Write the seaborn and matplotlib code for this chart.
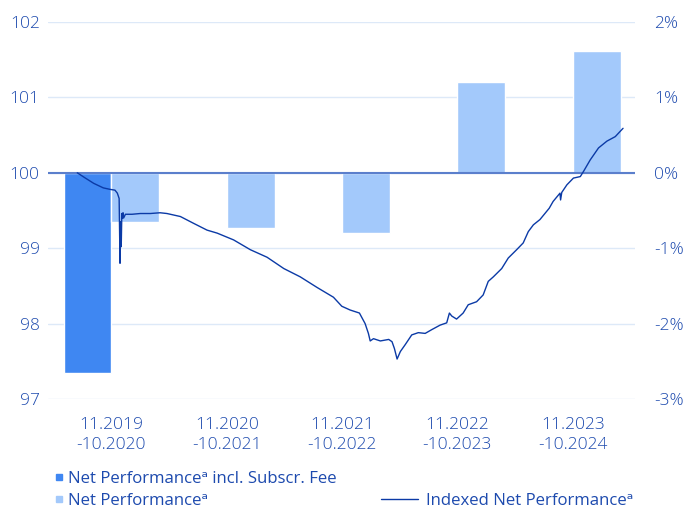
import matplotlib
matplotlib.use("Agg")
import matplotlib.pyplot as plt
from matplotlib.lines import Line2D
import seaborn as sns
import pandas as pd

# Bars (percent per period)
periods = ["11.2019\n-10.2020", "11.2020\n-10.2021", "11.2021\n-10.2022",
           "11.2022\n-10.2023", "11.2023\n-10.2024"]
fee_label = "Net Performanceᵃ incl. Subscr. Fee"
net_label = "Net Performanceᵃ"
line_label = "Indexed Net Performanceᵃ"
fee_values = [-2.65, None, None, None, None]
net_values = [-0.65, -0.73, -0.80, 1.20, 1.61]

# Indexed line
line_dates = [
    "2019-11-01", "2019-11-28", "2019-12-26", "2020-01-27", "2020-02-19", "2020-03-06",
    "2020-03-14", "2020-03-20", "2020-03-23", "2020-03-25", "2020-03-27", "2020-03-29",
    "2020-03-31", "2020-04-02", "2020-04-04", "2020-04-10", "2020-05-02", "2020-05-30",
    "2020-07-02", "2020-08-04", "2020-08-27", "2020-10-11", "2020-11-24", "2021-01-08",
    "2021-02-11", "2021-04-07", "2021-06-02", "2021-07-28", "2021-09-22", "2021-11-16",
    "2022-01-11", "2022-03-07", "2022-04-04", "2022-05-02", "2022-06-02", "2022-06-21",
    "2022-07-02", "2022-07-08", "2022-07-19", "2022-08-11", "2022-09-08", "2022-09-19",
    "2022-09-27", "2022-10-06", "2022-10-17", "2022-11-02", "2022-11-24", "2022-12-16",
    "2023-01-08", "2023-01-30", "2023-02-27", "2023-03-21", "2023-03-30", "2023-04-07",
    "2023-04-23", "2023-05-15", "2023-06-01", "2023-06-29", "2023-07-21", "2023-08-07",
    "2023-08-24", "2023-09-21", "2023-10-13", "2023-11-10", "2023-12-02", "2023-12-19",
    "2024-01-05", "2024-01-27", "2024-02-27", "2024-03-11", "2024-04-03", "2024-04-05",
    "2024-04-09", "2024-04-26", "2024-05-18", "2024-06-10", "2024-06-21", "2024-07-13",
    "2024-08-10", "2024-09-07", "2024-10-05", "2024-10-31"]
line_values = [
    100.00, 99.93, 99.86, 99.80, 99.78, 99.77,
    99.73, 99.66, 98.80, 99.35, 99.02, 99.46,
    99.40, 99.47, 99.40, 99.45, 99.45, 99.46,
    99.46, 99.47, 99.46, 99.42, 99.33, 99.24,
    99.20, 99.11, 98.98, 98.88, 98.73, 98.62,
    98.48, 98.35, 98.23, 98.18, 98.14, 98.00,
    97.87, 97.77, 97.80, 97.77, 97.79, 97.76,
    97.67, 97.53, 97.63, 97.72, 97.85, 97.88,
    97.87, 97.92, 97.98, 98.01, 98.14, 98.10,
    98.06, 98.14, 98.25, 98.29, 98.38, 98.56,
    98.62, 98.73, 98.87, 98.98, 99.07, 99.22,
    99.31, 99.38, 99.53, 99.62, 99.73, 99.64,
    99.74, 99.84, 99.93, 99.95, 100.02, 100.17,
    100.33, 100.42, 100.48, 100.59]

dark = "#3f87f2"
light = "#a3c9fb"
line_col = "#0b3aa6"
text_col = "#1d4aae"
grid_col = "#dde9f8"

sns.set_style("white")
plt.rcParams["font.family"] = ["Open Sans", "DejaVu Sans"]
plt.rcParams["font.size"] = 12.5
legend_font = {"family": ["Open Sans", "DejaVu Sans"], "weight": "normal", "size": 12.1}

bars = pd.DataFrame({
    "period": periods * 2,
    "series": [fee_label] * 5 + [net_label] * 5,
    "value": fee_values + net_values,
}).dropna()

fig = plt.figure(figsize=(6.84, 5.11), dpi=100)
pos = [48 / 684, 1 - 399 / 511, 587 / 684, 377 / 511]
ax = fig.add_axes(pos)
sns.barplot(data=bars, x="period", y="value", hue="series", order=periods,
            hue_order=[fee_label, net_label], palette=[dark, light],
            width=0.83, saturation=1, ax=ax, legend=False, zorder=2)
ax.set_xlim(-0.55, 4.54)
ax.set_ylim(-3, 2)
ax.set_yticks([-3, -2, -1, 0, 1, 2])
ax.set_yticklabels([f"{v}%" for v in [-3, -2, -1, 0, 1, 2]], fontweight="light")
ax.yaxis.tick_right()
ax.grid(axis="y", color=grid_col, lw=1, zorder=0)
ax.set_axisbelow(True)
ax.axhline(0, color="#5b7fcc", lw=1.5, zorder=3)
ax.set_xlabel("")
ax.set_ylabel("")
ax.tick_params(axis="both", length=0, colors=text_col, labelsize=12.5)
ax.tick_params(axis="y", pad=14)
ax.tick_params(axis="x", pad=13)
for lab in ax.get_xticklabels():
    lab.set_linespacing(1.35)
    lab.set_fontweight("light")
sns.despine(ax=ax, left=True, bottom=True)

# line on its own overlaid axes with dates
ax2 = fig.add_axes(pos)
ax2.patch.set_visible(False)
line_df = pd.DataFrame({"date": pd.to_datetime(line_dates), "value": line_values})
sns.lineplot(data=line_df, x="date", y="value", ax=ax2, color=line_col, lw=1.0, sort=False)
ax2.set_xlim(pd.Timestamp("2019-07-26"), pd.Timestamp("2024-12-10"))
ax2.set_ylim(97, 102)
ax2.set_yticks([97, 98, 99, 100, 101, 102])
ax2.set_yticklabels(["97", "98", "99", "100", "101", "102"], fontweight="light")
ax2.set_xticks([])
ax2.set_xlabel("")
ax2.set_ylabel("")
ax2.tick_params(axis="y", length=0, colors=text_col, labelsize=12.5, pad=6)
sns.despine(ax=ax2, left=True, bottom=True)

h1 = [Line2D([], [], marker="s", ls="", color=dark, markersize=4),
      Line2D([], [], marker="s", ls="", color=light, markersize=4)]
fig.legend(h1, [fee_label, net_label], loc="lower left",
           bbox_to_anchor=(0.058, -0.026), frameon=False, handlelength=0.5,
           handletextpad=0.3, labelspacing=0.35, labelcolor=text_col, prop=legend_font)
h2 = [Line2D([], [], color=line_col, lw=1.0)]
fig.legend(h2, [line_label], loc="lower left", bbox_to_anchor=(0.535, -0.026),
           frameon=False, handlelength=2.2, handletextpad=0.5,
           labelcolor=text_col, prop=legend_font)

fig.savefig("out.png", dpi=100)
